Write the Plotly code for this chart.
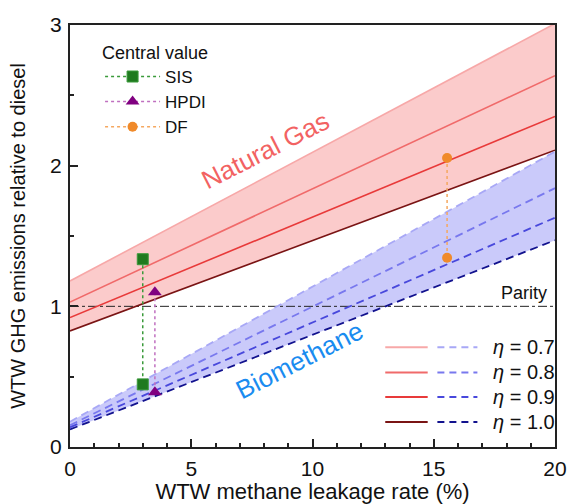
import plotly.graph_objects as go

# ---- data ----
leak = [0, 20]                       # WTW methane leakage rate (%)
etas = ["0.7", "0.8", "0.9", "1.0"]
ng_lines = {                          # Natural gas, relative emissions at leak=0 and 20
    "0.7": [1.18, 3.01],
    "0.8": [1.03, 2.64],
    "0.9": [0.92, 2.35],
    "1.0": [0.825, 2.11],
}
bm_lines = {                          # Biomethane
    "0.7": [0.18, 2.10],
    "0.8": [0.155, 1.84],
    "0.9": [0.14, 1.63],
    "1.0": [0.125, 1.47],
}
sis_x = [3.0, 3.0]
sis_y = [1.335, 0.445]
hpdi_x = [3.5, 3.5]
hpdi_y = [1.10, 0.39]
df_x = [15.55, 15.55]
df_y = [2.055, 1.345]
parity_y = 1.0

# ---- styles ----
FONT = "Arial, Liberation Sans, sans-serif"
ng_col = {"0.7": "#f7a8a8", "0.8": "#f06a6a", "0.9": "#e83a3a", "1.0": "#7a1414"}
bm_col = {"0.7": "#a8a8f6", "0.8": "#7878ee", "0.9": "#4848dc", "1.0": "#12128e"}

fig = go.Figure()

# bands
fig.add_trace(go.Scatter(x=leak, y=ng_lines["1.0"], mode="lines", line=dict(width=0),
                         showlegend=False, hoverinfo="skip"))
fig.add_trace(go.Scatter(x=leak, y=ng_lines["0.7"], mode="lines", line=dict(width=0),
                         fill="tonexty", fillcolor="rgba(250,190,190,0.8)",
                         showlegend=False, hoverinfo="skip"))
fig.add_trace(go.Scatter(x=leak, y=bm_lines["1.0"], mode="lines", line=dict(width=0),
                         showlegend=False, hoverinfo="skip"))
fig.add_trace(go.Scatter(x=leak, y=bm_lines["0.7"], mode="lines", line=dict(width=0),
                         fill="tonexty", fillcolor="rgba(196,196,250,0.9)",
                         showlegend=False, hoverinfo="skip"))

# parity
fig.add_trace(go.Scatter(x=leak, y=[parity_y, parity_y], mode="lines",
                         line=dict(color="#222222", width=1, dash="dashdot"),
                         showlegend=False, hoverinfo="skip"))

for e in etas:
    fig.add_trace(go.Scatter(x=leak, y=ng_lines[e], mode="lines",
                             line=dict(color=ng_col[e], width=1.6), showlegend=False))
for e in etas:
    fig.add_trace(go.Scatter(x=leak, y=bm_lines[e], mode="lines",
                             line=dict(color=bm_col[e], width=1.8, dash="8px,5px"),
                             showlegend=False))

# central values
fig.add_trace(go.Scatter(x=sis_x, y=sis_y, mode="lines+markers", name="SIS",
                         line=dict(color="#3a9a3a", width=1.5, dash="dot"),
                         marker=dict(symbol="square", size=11, color="#1f7a1f",
                                     line=dict(color="#3a9a3a", width=1))))
fig.add_trace(go.Scatter(x=hpdi_x, y=hpdi_y, mode="lines+markers", name="HPDI",
                         line=dict(color="#c070c0", width=1.5, dash="dot"),
                         marker=dict(symbol="triangle-up", size=12, color="#800080")))
fig.add_trace(go.Scatter(x=df_x, y=df_y, mode="lines+markers", name="DF",
                         line=dict(color="#f5a860", width=1.5, dash="dot"),
                         marker=dict(symbol="circle", size=10, color="#f08a2a")))

# eta legend (manual)
shapes = []
annotations = []
leg_y = [0.71, 0.53, 0.355, 0.178]
for e, yy in zip(etas, leg_y):
    shapes.append(dict(type="line", xref="x", yref="y", x0=13.0, x1=14.75, y0=yy, y1=yy,
                       line=dict(color=ng_col[e], width=2)))
    shapes.append(dict(type="line", xref="x", yref="y", x0=15.15, x1=16.8, y0=yy, y1=yy,
                       line=dict(color=bm_col[e], width=2, dash="7px,5px")))
    annotations.append(dict(x=17.35, y=yy, xref="x", yref="y", xanchor="left", yanchor="middle",
                            text="<i>η</i> = " + e, showarrow=False,
                            font=dict(family=FONT, size=20, color="#111111")))

annotations.append(dict(x=19.75, y=parity_y, xref="x", yref="y", xanchor="right", yanchor="bottom",
                        text="Parity", showarrow=False, yshift=1,
                        font=dict(family=FONT, size=18, color="#111111")))
annotations.append(dict(x=8.08, y=2.11, xref="x", yref="y", text="Natural Gas", showarrow=False,
                        textangle=-27, font=dict(family=FONT, size=26, color="#f26262")))
annotations.append(dict(x=9.48, y=0.62, xref="x", yref="y", text="Biomethane", showarrow=False,
                        textangle=-27, font=dict(family=FONT, size=26, color="#1a8cf0")))

fig.update_layout(
    width=568, height=504,
    margin=dict(l=70, r=13, t=25, b=57),
    paper_bgcolor="white", plot_bgcolor="white",
    font=dict(family=FONT, size=20, color="#111111"),
    shapes=shapes, annotations=annotations,
    legend=dict(x=0.062, y=0.975, xanchor="left", yanchor="top", traceorder="normal",
                bgcolor="rgba(0,0,0,0)", font=dict(family=FONT, size=17),
                title=dict(text="Central value", font=dict(family=FONT, size=18)),
                tracegroupgap=0, itemwidth=55),
)
fig.update_xaxes(range=[0, 20], showgrid=False, zeroline=False, automargin=False,
                 showline=True, linecolor="#222222", linewidth=2, mirror=True,
                 ticks="inside", ticklen=8, tickwidth=1.5, tickcolor="#222222",
                 dtick=5, tick0=0,
                 minor=dict(ticks="inside", ticklen=4, dtick=1, tickwidth=1.5, tickcolor="#222222"),
                 tickfont=dict(size=21), ticklabelstandoff=2,
                 title=dict(text="WTW methane leakage rate (%)", font=dict(size=22), standoff=7))
fig.update_yaxes(range=[0, 3], showgrid=False, zeroline=False, automargin=False,
                 showline=True, linecolor="#222222", linewidth=2, mirror=True,
                 ticks="inside", ticklen=8, tickwidth=1.5, tickcolor="#222222",
                 dtick=1, tick0=0,
                 minor=dict(ticks="inside", ticklen=4, dtick=0.5, tickwidth=1.5, tickcolor="#222222"),
                 tickfont=dict(size=21), ticklabelstandoff=2,
                 title=dict(text="WTW GHG emissions relative to diesel", font=dict(size=20), standoff=19))

# remove the page's default body margin so the 568x504 figure fills the window exactly
fig.write_html("out.html", config={"displayModeBar": False},
               post_script="document.body.style.margin='0px';")
